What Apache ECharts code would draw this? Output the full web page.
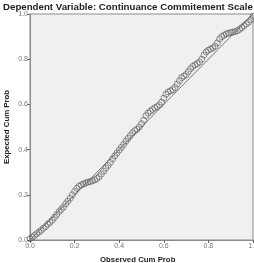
<!DOCTYPE html>
<html>
<head>
  <meta charset="utf-8">
  <script src="https://cdn.jsdelivr.net/npm/echarts@6/dist/echarts.min.js"></script>
  <style>
    body { margin: 0; padding: 0; background: #fff; }
    #chart { width: 254px; height: 263px; }
  </style>
</head>
<body>
  <div id="chart"></div>
  <script>
    // observed cum prob (x) and expected cum prob (y)
    const observed = [
      0.00, 0.01, 0.02, 0.03, 0.04, 0.05, 0.06, 0.07, 0.08, 0.09,
      0.10, 0.11, 0.12, 0.13, 0.14, 0.15, 0.16, 0.17, 0.18, 0.19,
      0.20, 0.21, 0.22, 0.23, 0.24, 0.25, 0.26, 0.27, 0.28, 0.29,
      0.30, 0.31, 0.32, 0.33, 0.34, 0.35, 0.36, 0.37, 0.38, 0.39,
      0.40, 0.41, 0.42, 0.43, 0.44, 0.45, 0.46, 0.47, 0.48, 0.49,
      0.50, 0.51, 0.52, 0.53, 0.54, 0.55, 0.56, 0.57, 0.58, 0.59,
      0.60, 0.61, 0.62, 0.63, 0.64, 0.65, 0.66, 0.67, 0.68, 0.69,
      0.70, 0.71, 0.72, 0.73, 0.74, 0.75, 0.76, 0.77, 0.78, 0.79,
      0.80, 0.81, 0.82, 0.83, 0.84, 0.85, 0.86, 0.87, 0.88, 0.89,
      0.90, 0.91, 0.92, 0.93, 0.94, 0.95, 0.96, 0.97, 0.98, 0.99, 1.00
    ];
    const expected = [
      0.005, 0.012, 0.020, 0.028, 0.035, 0.043, 0.052, 0.060, 0.070, 0.078,
      0.088, 0.100, 0.112, 0.125, 0.135, 0.146, 0.160, 0.172, 0.185, 0.200,
      0.215, 0.228, 0.238, 0.244, 0.248, 0.252, 0.256, 0.258, 0.262, 0.266,
      0.272, 0.280, 0.292, 0.305, 0.318, 0.330, 0.343, 0.358, 0.372, 0.385,
      0.398, 0.410, 0.423, 0.437, 0.450, 0.462, 0.474, 0.484, 0.490, 0.500,
      0.515, 0.530, 0.550, 0.562, 0.570, 0.578, 0.585, 0.590, 0.598, 0.610,
      0.628, 0.645, 0.655, 0.660, 0.665, 0.675, 0.690, 0.705, 0.718, 0.725,
      0.732, 0.745, 0.758, 0.768, 0.775, 0.780, 0.788, 0.800, 0.818, 0.832,
      0.840, 0.845, 0.850, 0.858, 0.872, 0.890, 0.900, 0.906, 0.912, 0.915,
      0.918, 0.920, 0.922, 0.926, 0.932, 0.940, 0.948, 0.956, 0.964, 0.975, 0.990
    ];
    const refLine = [[0, 0], [1, 1]];

    const font = 'Liberation Sans, Arial, sans-serif';
    const chart = echarts.init(document.getElementById('chart'));
    chart.setOption({
      animation: false,
      title: [
        {
          text: 'Dependent Variable: Continuance Commitement Scale',
          left: 3,
          top: 2,
          padding: 0,
          textStyle: { fontSize: 9.7, fontWeight: 'bold', color: '#222', fontFamily: font }
        },
        {
          text: 'Observed Cum Prob',
          left: 100,
          top: 256,
          padding: 0,
          textStyle: { fontSize: 7.8, fontWeight: 'bold', color: '#222', fontFamily: font }
        }
      ],
      grid: {
        left: 30, right: 1, top: 14, bottom: 23,
        containLabel: false,
        outerBoundsMode: 'none',
        show: true,
        backgroundColor: '#f0f0f0',
        borderColor: '#8a8a8a',
        borderWidth: 1
      },
      xAxis: {
        type: 'value',
        min: 0, max: 1, interval: 0.2,
        axisLine: { lineStyle: { color: '#8a8a8a' } },
        axisTick: { show: true, length: 3, lineStyle: { color: '#666' } },
        axisLabel: {
          fontSize: 7, color: '#777', fontFamily: font, margin: 3,
          showMinLabel: true, showMaxLabel: true,
          formatter: v => v.toFixed(1)
        },
        splitLine: { show: false }
      },
      yAxis: {
        type: 'value',
        min: 0, max: 1, interval: 0.2,
        name: 'Expected Cum Prob',
        nameLocation: 'middle',
        nameGap: 19,
        nameMoveOverlap: false,
        nameTextStyle: { fontSize: 7.8, fontWeight: 'bold', color: '#222', fontFamily: font },
        axisLine: { lineStyle: { color: '#8a8a8a' } },
        axisTick: { show: true, length: 3, lineStyle: { color: '#666' } },
        axisLabel: {
          fontSize: 7, color: '#777', fontFamily: font, margin: 2,
          showMinLabel: true, showMaxLabel: true, hideOverlap: false,
          formatter: v => v.toFixed(1)
        },
        splitLine: { show: false }
      },
      series: [
        {
          type: 'line',
          data: refLine,
          symbol: 'none',
          lineStyle: { color: '#777', width: 1 },
          z: 1
        },
        {
          type: 'scatter',
          data: observed.map((x, i) => [x, expected[i]]),
          symbol: 'circle',
          symbolSize: 6,
          itemStyle: { color: 'rgba(0,0,0,0)', borderColor: '#555', borderWidth: 0.8 },
          z: 2
        }
      ]
    });
  </script>
</body>
</html>
